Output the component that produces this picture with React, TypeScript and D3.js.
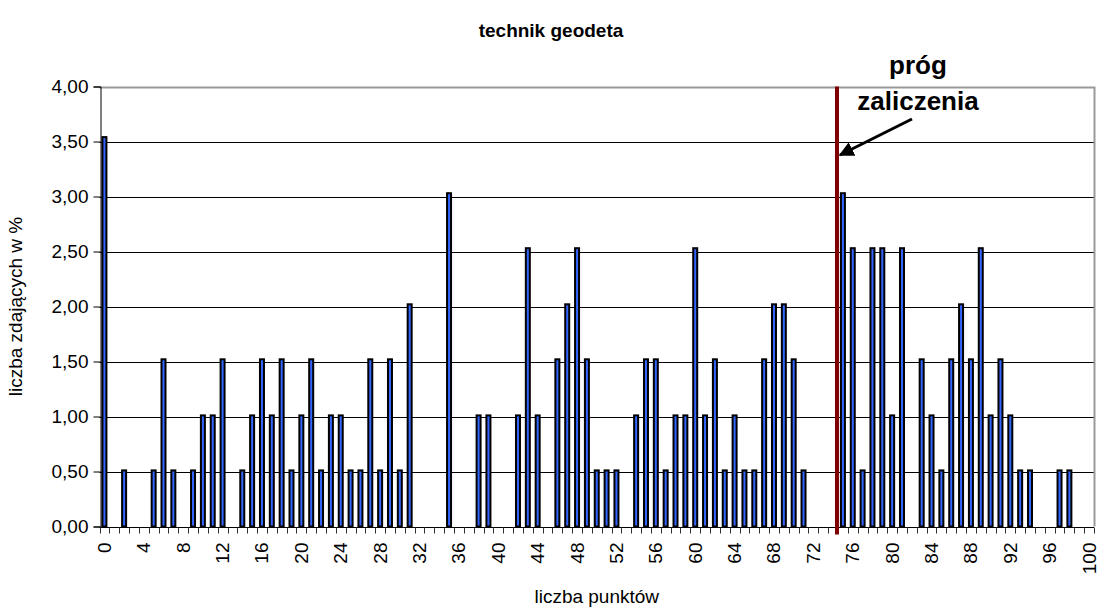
import { useEffect, useRef } from 'react';
import * as d3 from 'd3';

// punkty 0..100
const points: number[] = d3.range(0, 101);

// liczba zdających w %
const percent: number[] = [
  3.54, 0, 0.51, 0, 0, 0.51, 1.52, 0.51, 0, 0.51,
  1.01, 1.01, 1.52, 0, 0.51, 1.01, 1.52, 1.01, 1.52, 0.51,
  1.01, 1.52, 0.51, 1.01, 1.01, 0.51, 0.51, 1.52, 0.51, 1.52,
  0.51, 2.02, 0, 0, 0, 3.03, 0, 0, 1.01, 1.01,
  0, 0, 1.01, 2.53, 1.01, 0, 1.52, 2.02, 2.53, 1.52,
  0.51, 0.51, 0.51, 0, 1.01, 1.52, 1.52, 0.51, 1.01, 1.01,
  2.53, 1.01, 1.52, 0.51, 1.01, 0.51, 0.51, 1.52, 2.02, 2.02,
  1.52, 0.51, 0, 0, 0, 3.03, 2.53, 0.51, 2.53, 2.53,
  1.01, 2.53, 0, 1.52, 1.01, 0.51, 1.52, 2.02, 1.52, 2.53,
  1.01, 1.52, 1.01, 0.51, 0.51, 0, 0, 0.51, 0.51, 0,
  0
];

const yTicks: number[] = [0, 0.5, 1, 1.5, 2, 2.5, 3, 3.5, 4];
const xLabelStep = 4;
const threshold = 75; // próg zaliczenia

const title = 'technik geodeta';
const xTitle = 'liczba punktów';
const yTitle = 'liczba zdających w %';

const FONT = "Arial, 'Liberation Sans', sans-serif";

const Chart: React.FC<{ width?: number; height?: number }> = ({ width = 1101, height = 607 }) => {
  const svgRef = useRef<SVGSVGElement>(null);

  useEffect(() => {
    if (!svgRef.current) return;
    document.body.style.margin = '0';

    const svg = d3.select(svgRef.current);
    svg.selectAll('*').remove();

    const left = 99.5;
    const right = 1094;
    const top = 86.5;
    const bottom = 526.5;

    const x = d3.scaleBand<number>()
      .domain(points)
      .range([left, right])
      .padding(0);

    const y = d3.scaleLinear()
      .domain([0, 4])
      .range([bottom, top]);

    const fmt = d3.formatLocale({ decimal: ',', thousands: ' ', grouping: [3], currency: ['', ' zł'] }).format('.2f');

    // title
    svg.append('text')
      .attr('x', 551)
      .attr('y', 37)
      .attr('text-anchor', 'middle')
      .attr('font-family', FONT)
      .attr('font-weight', 'bold')
      .attr('font-size', 19)
      .text(title);

    // gridlines
    svg.append('g')
      .selectAll('line')
      .data(yTicks.filter(t => t > 0 && t < 4))
      .enter()
      .append('line')
      .attr('x1', left)
      .attr('x2', right)
      .attr('y1', d => Math.round(y(d)) + 0.5)
      .attr('y2', d => Math.round(y(d)) + 0.5)
      .attr('stroke', '#000')
      .attr('stroke-width', 1);

    // plot border (top + right, grey)
    svg.append('path')
      .attr('d', `M${left},${Math.round(top) + 0.5}H${right + 0.5}V${bottom}`)
      .attr('fill', 'none')
      .attr('stroke', '#999')
      .attr('stroke-width', 2);

    // bars
    const barW = 4;
    svg.append('g')
      .selectAll('rect')
      .data(points.filter(p => percent[p] > 0))
      .enter()
      .append('rect')
      .attr('x', d => (x(d) as number) + x.bandwidth() / 2 - barW / 2)
      .attr('y', d => y(percent[d]))
      .attr('width', barW)
      .attr('height', d => y(0) - y(percent[d]))
      .attr('fill', '#3366ff')
      .attr('stroke', '#000')
      .attr('stroke-width', 2);

    // y axis
    const yAxis = svg.append('g')
      .attr('transform', `translate(${Math.round(left) + 0.5},0)`)
      .call(d3.axisLeft(y).tickValues(yTicks).tickSize(7).tickPadding(5).tickFormat(d => fmt(d as number)));
    yAxis.select('.domain').attr('stroke', '#000');
    yAxis.selectAll('.tick line').attr('stroke', '#000');
    yAxis.selectAll('.tick text')
      .attr('font-family', FONT)
      .attr('font-size', 19)
      .attr('fill', '#000');

    // x axis
    const xAxisG = svg.append('g')
      .attr('transform', `translate(0,${Math.round(bottom) + 0.5})`);
    xAxisG.append('line')
      .attr('x1', left)
      .attr('x2', right)
      .attr('stroke', '#000');
    xAxisG.selectAll('line.tk')
      .data([...points, points.length])
      .enter()
      .append('line')
      .attr('class', 'tk')
      .attr('x1', d => Math.round(left + d * x.step()) + 0.5)
      .attr('x2', d => Math.round(left + d * x.step()) + 0.5)
      .attr('y1', 0)
      .attr('y2', 6)
      .attr('stroke', '#333');
    xAxisG.selectAll('text')
      .data(points.filter(p => p % xLabelStep === 0))
      .enter()
      .append('text')
      .attr('transform', d => `translate(${(x(d) as number) + x.bandwidth() / 2},15) rotate(-90)`)
      .attr('text-anchor', 'end')
      .attr('dominant-baseline', 'central')
      .attr('font-family', FONT)
      .attr('font-size', 19)
      .text(d => String(d));

    // axis titles
    svg.append('text')
      .attr('x', (left + right) / 2)
      .attr('y', 603)
      .attr('text-anchor', 'middle')
      .attr('font-family', FONT)
      .attr('font-size', 19)
      .text(xTitle);

    svg.append('text')
      .attr('transform', `translate(22,${(top + bottom) / 2}) rotate(-90)`)
      .attr('text-anchor', 'middle')
      .attr('font-family', FONT)
      .attr('font-size', 19)
      .text(yTitle);

    // threshold line
    const tx = (x(threshold) as number) - 1;
    svg.append('line')
      .attr('x1', tx)
      .attr('x2', tx)
      .attr('y1', top)
      .attr('y2', bottom + 8)
      .attr('stroke', '#800000')
      .attr('stroke-width', 4);

    // annotation
    svg.append('text')
      .attr('x', 918)
      .attr('y', 74)
      .attr('text-anchor', 'middle')
      .attr('font-family', FONT)
      .attr('font-weight', 'bold')
      .attr('font-size', 26)
      .text('próg');
    svg.append('text')
      .attr('x', 918)
      .attr('y', 110)
      .attr('text-anchor', 'middle')
      .attr('font-family', FONT)
      .attr('font-weight', 'bold')
      .attr('font-size', 26)
      .text('zaliczenia');

    const defs = svg.append('defs');
    defs.append('marker')
      .attr('id', 'arrowhead')
      .attr('viewBox', '0 0 10 10')
      .attr('refX', 9)
      .attr('refY', 5)
      .attr('markerWidth', 5)
      .attr('markerHeight', 5)
      .attr('orient', 'auto')
      .append('path')
      .attr('d', 'M0,0L10,5L0,10z')
      .attr('fill', '#000');

    svg.append('line')
      .attr('x1', 912)
      .attr('y1', 119)
      .attr('x2', tx + 3)
      .attr('y2', 155)
      .attr('stroke', '#000')
      .attr('stroke-width', 3)
      .attr('marker-end', 'url(#arrowhead)');
  }, [width, height]);

  return (
    <svg
      ref={svgRef}
      width={width}
      height={height}
      style={{ display: 'block', background: '#fff' }}
    />
  );
};

export default function App() {
  return <Chart />;
}
